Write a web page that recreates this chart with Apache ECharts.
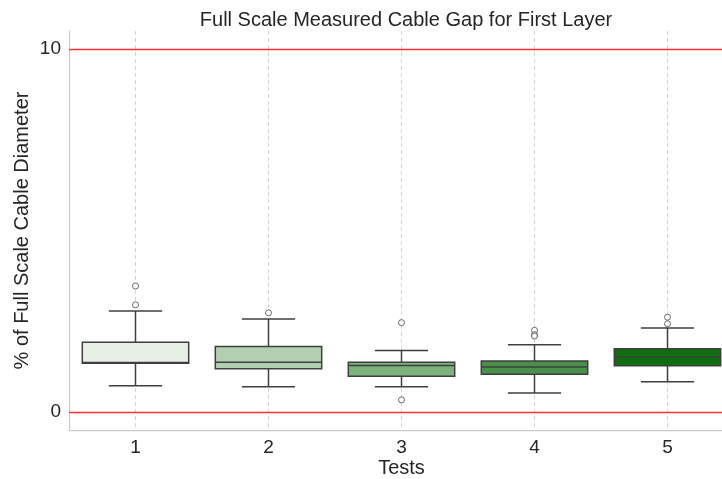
<!DOCTYPE html>
<html>
<head>
<meta charset="utf-8">
<script src="https://cdn.jsdelivr.net/npm/echarts@6/dist/echarts.min.js"></script>
<style>html,body{margin:0;padding:0;background:#fff}#c{width:722px;height:479px}</style>
</head>
<body>
<div id="c"></div>
<script>
var categories = ['1', '2', '3', '4', '5'];
// [lower whisker, Q1, median, Q3, upper whisker]
var lowerWhisker = [0.72, 0.69, 0.69, 0.52, 0.83];
var q1Values     = [1.34, 1.19, 0.98, 1.04, 1.27];
var medians      = [1.36, 1.37, 1.28, 1.24, 1.52];
var q3Values     = [1.92, 1.80, 1.37, 1.40, 1.74];
var upperWhisker = [2.78, 2.56, 1.69, 1.85, 2.31];
var outliers = [
  [0, 3.47], [0, 2.95],
  [1, 2.73],
  [2, 2.46], [2, 0.33],
  [3, 2.25], [3, 2.13], [3, 2.09],
  [4, 2.61], [4, 2.43]
];
var boxColors = ['#e8efe7', '#b3cfb2', '#7db27c', '#4a8f4a', '#0f6e0f'];
var yTickLabels = [0, 10];
var refLines = [0, 10];

var boxData = categories.map(function (c, i) {
  return [i, lowerWhisker[i], q1Values[i], medians[i], q3Values[i], upperWhisker[i]];
});
// helper axis with two slots per category, so split lines fall on category centres
var halfSlots = [];
categories.forEach(function (c) { halfSlots.push(c + 'a', c + 'b'); });

var chart = echarts.init(document.getElementById('c'), null, {renderer: 'canvas'});
var font = "'Liberation Sans', Arial, Helvetica, sans-serif";
var edge = '#3f3f3f';

function renderBox(params, api) {
  var idx = api.value(0);
  var pLow = api.coord([idx, api.value(1)]);
  var pQ1 = api.coord([idx, api.value(2)]);
  var pMed = api.coord([idx, api.value(3)]);
  var pQ3 = api.coord([idx, api.value(4)]);
  var pUp = api.coord([idx, api.value(5)]);
  var band = api.size([1, 0])[0];
  var bw = band * 0.8;
  var cw = bw / 2;
  var x = pQ1[0];
  var ls = {stroke: edge, lineWidth: 1.5};
  return {
    type: 'group',
    children: [
      {type: 'line', shape: {x1: x, y1: pQ3[1], x2: x, y2: pUp[1]}, style: ls},
      {type: 'line', shape: {x1: x, y1: pQ1[1], x2: x, y2: pLow[1]}, style: ls},
      {type: 'line', shape: {x1: x - cw / 2, y1: pUp[1], x2: x + cw / 2, y2: pUp[1]}, style: ls},
      {type: 'line', shape: {x1: x - cw / 2, y1: pLow[1], x2: x + cw / 2, y2: pLow[1]}, style: ls},
      {type: 'rect', shape: {x: x - bw / 2, y: pQ3[1], width: bw, height: pQ1[1] - pQ3[1]},
        style: {fill: boxColors[idx], stroke: edge, lineWidth: 1.5}},
      {type: 'line', shape: {x1: x - bw / 2, y1: pMed[1], x2: x + bw / 2, y2: pMed[1]}, style: ls}
    ]
  };
}

function renderRef(params, api) {
  var cs = params.coordSys;
  var p = api.coord([0, api.value(0)]);
  var y = Math.round(p[1]) + 0.5;
  return {
    type: 'line',
    shape: {x1: cs.x, y1: y, x2: cs.x + cs.width, y2: y},
    style: {stroke: '#ff3030', lineWidth: 1.3}
  };
}

chart.setOption({
  animation: false,
  backgroundColor: '#ffffff',
  title: {
    text: 'Full Scale Measured Cable Gap for First Layer',
    left: 401, top: 5, textAlign: 'center',
    textStyle: {fontFamily: font, fontSize: 20, fontWeight: 'normal', color: '#262626'}
  },
  grid: {left: 69, top: 31, right: -12, bottom: 49, containLabel: false, outerBoundsMode: 'none'},
  xAxis: [{
    type: 'category',
    data: categories,
    boundaryGap: true,
    name: 'Tests',
    nameLocation: 'middle',
    nameGap: 28,
    nameMoveOverlap: false,
    nameTextStyle: {fontFamily: font, fontSize: 20, color: '#262626'},
    axisLine: {show: true, onZero: false, lineStyle: {color: '#cccccc', width: 1.25}},
    axisTick: {show: false},
    axisLabel: {fontFamily: font, fontSize: 19, color: '#262626', margin: 8},
    splitLine: {show: false}
  }, {
    type: 'category',
    data: halfSlots,
    boundaryGap: true,
    position: 'bottom',
    show: true,
    axisLine: {show: false, onZero: false},
    axisTick: {show: false},
    axisLabel: {show: false},
    splitLine: {
      show: true,
      interval: function (index) { return index % 2 === 1; },
      lineStyle: {color: '#d4d4d4', type: [4, 3], width: 1}
    }
  }],
  yAxis: {
    type: 'value',
    min: -0.5,
    max: 10.5,
    name: '% of Full Scale Cable Diameter',
    nameLocation: 'middle',
    nameGap: 37,
    nameMoveOverlap: false,
    nameTextStyle: {fontFamily: font, fontSize: 20, color: '#262626'},
    axisLine: {show: true, onZero: false, lineStyle: {color: '#cccccc', width: 1.25}},
    axisTick: {show: false},
    axisLabel: {fontFamily: font, fontSize: 19, color: '#262626', margin: 8, customValues: yTickLabels},
    splitLine: {show: false},
    minorSplitLine: {show: false}
  },
  series: [
    {
      type: 'custom',
      renderItem: renderRef,
      data: refLines.map(function (v) { return [v]; }),
      encode: {y: 0},
      silent: true,
      z: 100,
      zlevel: 1
    },
    {
      type: 'custom',
      renderItem: renderBox,
      data: boxData,
      encode: {x: 0, y: [1, 2, 3, 4, 5]},
      z: 3
    },
    {
      type: 'scatter',
      data: outliers,
      symbol: 'circle',
      symbolSize: 6,
      itemStyle: {color: '#ffffff', borderColor: '#4a4a4a', borderWidth: 1},
      z: 4
    }
  ]
});
</script>
</body>
</html>
